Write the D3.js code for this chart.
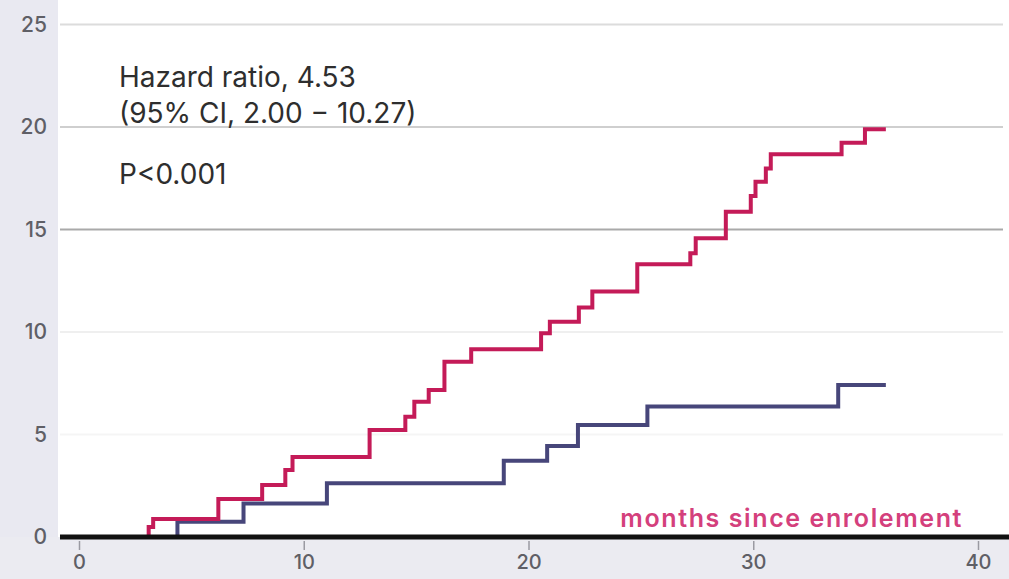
<!DOCTYPE html>
<html>
<head>
<meta charset="utf-8">
<script src="https://cdn.jsdelivr.net/npm/d3@7"></script>
<style>
  html, body { margin: 0; padding: 0; background: #ffffff; }
  svg { display: block; }
</style>
</head>
<body>
<svg id="chart" width="1009" height="579"></svg>
<script>
// Cumulative incidence (%) by months since enrolment, two groups (step functions)
const highRiskMonths = [0, 3.1, 3.3, 6.2, 8.15, 9.18, 9.5, 12.93, 14.52, 14.92, 15.56, 16.26, 17.45,
  20.56, 20.95, 22.24, 22.84, 24.84, 27.2, 27.44, 28.78, 29.89, 30.1, 30.56, 30.78, 33.93, 34.97, 35.9];
const highRiskIncidence = [0, 0.49, 0.88, 1.85, 2.54, 3.27, 3.9, 5.22, 5.87, 6.6, 7.17, 8.55, 9.16,
  9.94, 10.5, 11.2, 11.97, 13.3, 13.84, 14.57, 15.87, 16.63, 17.33, 17.98, 18.67, 19.23, 19.89, 19.89];

const lowRiskMonths = [0, 4.38, 7.32, 11.03, 18.9, 20.83, 22.2, 25.29, 33.78, 35.9];
const lowRiskIncidence = [0, 0.75, 1.64, 2.62, 3.72, 4.44, 5.46, 6.36, 7.41, 7.41];

const xTicks = [0, 10, 20, 30, 40];
const yTicks = [0, 5, 10, 15, 20, 25];

const annotationLines = ["Hazard ratio, 4.53", "(95% CI, 2.00 \u2212 10.27)"];
const pValueText = "P<0.001";
const xAxisTitle = "months since enrolement";

const svg = d3.select("#chart");
const W = 1009, H = 579;

const x = d3.scaleLinear().domain([0, 40]).range([79, 978]);
const y = d3.scaleLinear().domain([0, 25]).range([537, 24.5]);

// Background panels: tinted margins on the left and below the axis
svg.append("rect").attr("x", 0).attr("y", 0).attr("width", W).attr("height", H).attr("fill", "#ffffff");
svg.append("rect").attr("x", 0).attr("y", 0).attr("width", 58).attr("height", H).attr("fill", "#e9e9f1");
svg.append("rect").attr("x", 0).attr("y", y(0)).attr("width", W).attr("height", H - y(0)).attr("fill", "#ebebf1");

// Horizontal gridlines
const gridStroke = { 25: "#dcdcdc", 20: "#cfcfcf", 15: "#a9a9a9", 10: "#efefef", 5: "#f5f5f5" };
svg.append("g").selectAll("line")
  .data(yTicks.filter(v => v > 0))
  .join("line")
  .attr("x1", 60).attr("x2", 1003)
  .attr("y1", d => y(d)).attr("y2", d => y(d))
  .attr("stroke", d => gridStroke[d])
  .attr("stroke-width", 2);

// Y axis labels
const yAxis = d3.axisLeft(y).tickValues(yTicks).tickSize(0).tickPadding(0).tickFormat(d3.format("d"));
const gy = svg.append("g").attr("transform", "translate(47,0)").call(yAxis);
gy.select(".domain").remove();
gy.selectAll("text")
  .attr("fill", "#5f5f66")
  .style("font-family", "Inter, 'Liberation Sans', sans-serif")
  .style("font-size", "21px")
  .style("font-weight", "500");

// X axis ticks and labels
const xAxis = d3.axisBottom(x).tickValues(xTicks).tickSize(9).tickPadding(5).tickFormat(d3.format("d"));
const gx = svg.append("g").attr("transform", `translate(0,${y(0) + 4})`).call(xAxis);
gx.select(".domain").remove();
gx.selectAll(".tick line").attr("stroke", "#9a9aa2").attr("stroke-width", 1.5);
gx.selectAll("text")
  .attr("fill", "#5f5f66")
  .style("font-family", "Inter, 'Liberation Sans', sans-serif")
  .style("font-size", "20px")
  .style("font-weight", "500");

// Step curves
const line = d3.line()
  .x(d => x(d[0]))
  .y(d => y(d[1]))
  .curve(d3.curveStepAfter);

const lowRisk = d3.zip(lowRiskMonths, lowRiskIncidence);
const highRisk = d3.zip(highRiskMonths, highRiskIncidence);

svg.append("path")
  .datum(lowRisk)
  .attr("d", line)
  .attr("fill", "none")
  .attr("stroke", "#47467a")
  .attr("stroke-width", 4)
  .attr("stroke-linejoin", "miter");

svg.append("path")
  .datum(highRisk)
  .attr("d", line)
  .attr("fill", "none")
  .attr("stroke", "#c41b58")
  .attr("stroke-width", 4)
  .attr("stroke-linejoin", "miter");

// Baseline axis line
svg.append("line")
  .attr("x1", 60).attr("x2", W)
  .attr("y1", y(0)).attr("y2", y(0))
  .attr("stroke", "#111111")
  .attr("stroke-width", 5);

// Annotations
const ann = svg.append("g")
  .style("font-family", "Inter, 'Liberation Sans', sans-serif")
  .style("font-size", "28px")
  .attr("fill", "#2e2e2e");
ann.selectAll("text.hr")
  .data(annotationLines)
  .join("text")
  .attr("class", "hr")
  .attr("x", 119)
  .attr("y", (d, i) => 87 + i * 36)
  .text(d => d);
ann.append("text")
  .attr("x", 119)
  .attr("y", 184)
  .text(pValueText);

// Axis title
svg.append("text")
  .attr("x", 963)
  .attr("y", 527)
  .attr("text-anchor", "end")
  .attr("fill", "#d4407c")
  .style("font-family", "Inter, 'Liberation Sans', sans-serif")
  .style("font-size", "25px")
  .style("font-weight", "600")
  .style("letter-spacing", "1.6px")
  .text(xAxisTitle);
</script>
</body>
</html>
